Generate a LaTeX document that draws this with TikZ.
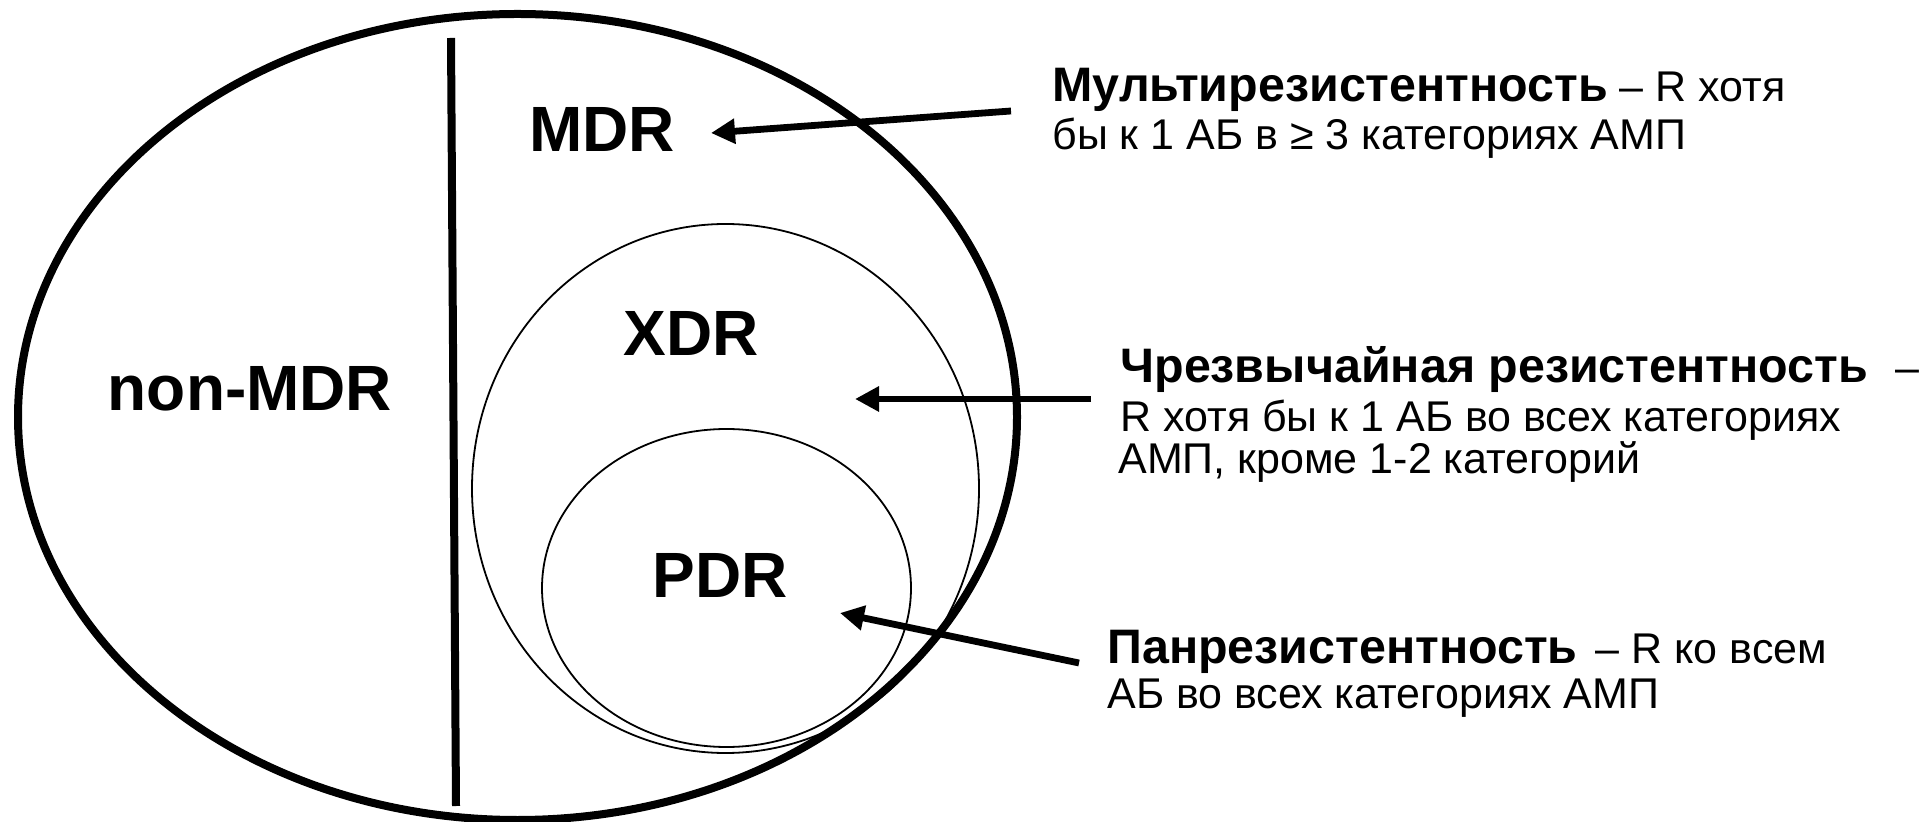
\documentclass[tikz,border=0pt]{standalone}
\usepackage{fontspec}
\setmainfont{Liberation Sans}
\usetikzlibrary{arrows.meta}
% bold lead-in of each definition, a little larger than the body text
\newcommand\deflead[1]{{\fontsize{24.2}{26}\selectfont\bfseries #1}}
\begin{document}
\begin{tikzpicture}[x=0.5pt,y=-0.5pt,
  outer/.style={line width=4pt},
  inner/.style={line width=0.9pt},
  divider/.style={line width=4pt},
  pointer/.style={line width=3.4pt,-{Triangle[length=12pt,width=12pt]}},
  region/.style={font=\fontsize{32}{36}\selectfont\bfseries, inner sep=0pt, anchor=base},
  noteline/.style={font=\fontsize{21.5}{24}\selectfont, inner sep=0pt, anchor=base west}]
\useasboundingbox (0,0) rectangle (1926,822);

% nested resistance classes
\draw[outer] (517.5,417) ellipse [x radius=499.5, y radius=403];
\draw[inner] (725.5,488.5) ellipse [x radius=253.5, y radius=264.5];
\draw[inner] (726.5,588) ellipse [x radius=184.5, y radius=159];
\coordinate (divtop) at (451,38);
\coordinate (divbot) at (456,806);
\draw[divider] (divtop) -- (divbot);

% class labels
\node[region] (mdr) at (602,152) {MDR};
\node[region] (xdr) at (691,356) {XDR};
\node[region] (pdr) at (720,598) {PDR};
\node[region] (nonmdr) at (250,411) {non-MDR};

% definitions, one node per printed line
\node[noteline] (mdrA) at (1052,102) {\deflead{Мультирезистентность} – R хотя};
\node[noteline] (mdrB) at (1052,150) {бы к 1 АБ в ≥ 3 категориях АМП};
\node[noteline] (xdrA) at (1120,383) {\deflead{Чрезвычайная резистентность}\hspace{14pt}–};
\node[noteline] (xdrB) at (1120,432) {R хотя бы к 1 АБ во всех категориях};
\node[noteline] (xdrC) at (1118,474) {АМП, кроме 1-2 категорий};
\node[noteline] (pdrA) at (1107,663) {\deflead{Панрезистентность}\hspace{9pt}– R ко всем};
\node[noteline] (pdrB) at (1107,708) {АБ во всех категориях АМП};

% pointers from definitions into the diagram
\coordinate (mdrtail) at (1011,111);
\coordinate (mdrtip) at (711,133);
\coordinate (xdrtail) at (1091,399);
\coordinate (xdrtip) at (855,399);
\coordinate (pdrtail) at (1079,663);
\coordinate (pdrtip) at (840,613);
\draw[pointer] (mdrtail) -- (mdrtip);
\draw[pointer] (xdrtail) -- (xdrtip);
\draw[pointer] (pdrtail) -- (pdrtip);
\end{tikzpicture}
\end{document}
